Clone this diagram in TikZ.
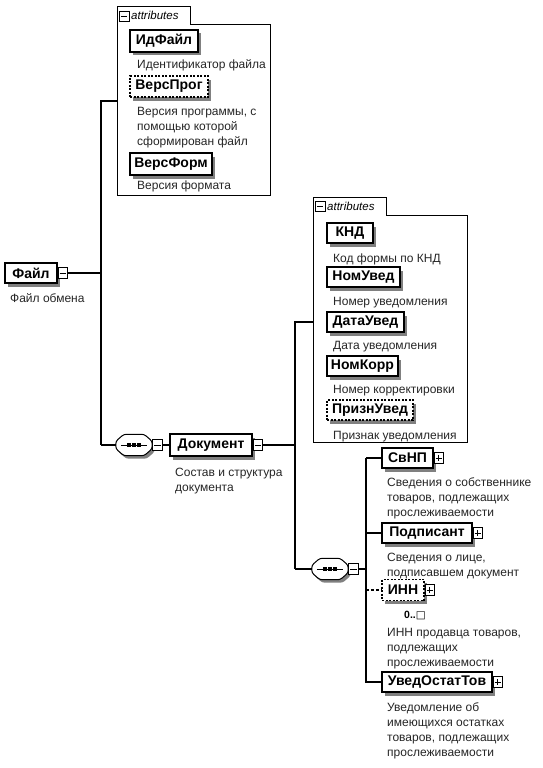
\documentclass[tikz,border=0pt]{standalone}
\usepackage{fontspec}
\setmainfont{Liberation Sans}
\newfontfamily\symfont{DejaVu Sans}
\usetikzlibrary{shadows}
\newcommand{\pmMinus}[1]{\draw[line width=0.9pt] ([xshift=2pt]#1.west) -- ([xshift=-2pt]#1.east);}
\newcommand{\pmPlus}[1]{\pmMinus{#1}\draw[line width=0.9pt] ([yshift=3.2pt]#1.center) -- ([yshift=-3.2pt]#1.center);}
\newcommand{\compos}[3]{%
  \node[minimum width=36pt, minimum height=21pt, inner sep=0pt] (#1) at (#2,#3) {};
  \draw[line width=1pt, fill=white, rounded corners=2.5pt, drop shadow={shadow xshift=2.5pt,shadow yshift=-3pt,fill=black!50,opacity=1}]
    ([xshift=8pt]#1.north west) -- ([xshift=-8pt]#1.north east) -- ([yshift=-7pt]#1.north east) -- ([yshift=7pt]#1.south east)
    -- ([xshift=-8pt]#1.south east) -- ([xshift=8pt]#1.south west) -- ([yshift=7pt]#1.south west) -- ([yshift=-7pt]#1.north west) -- cycle;
  \draw[line width=0.9pt] ([xshift=5pt]#1.west) -- ([xshift=-5pt]#1.east);
  \foreach \d in {-5,0,5} \fill ([xshift=\d pt]#1.center) +(-1.6,-1.6) rectangle +(1.6,1.6);
}
\begin{document}
\begin{tikzpicture}[x=1pt,y=-1pt,
  elem/.style={draw=black, line width=1.1pt, fill=white, font=\fontsize{14}{16}\selectfont\bfseries,
    inner sep=0pt, minimum height=20pt,
    drop shadow={shadow xshift=3pt,shadow yshift=-3.5pt,fill=black!50,opacity=1}},
  opt/.style={elem, dash pattern=on 2pt off 1.5pt},
  desc/.style={anchor=base west, inner sep=0pt, font=\fontsize{12}{15}\selectfont, text=black!85, align=left},
  conn/.style={line width=1.3pt, black},
  attrbox/.style={draw=black, line width=1pt},
  tabtxt/.style={anchor=base west, inner sep=0pt, font=\fontsize{11.5}{13}\selectfont\itshape},
  pmbox/.style={draw, line width=0.9pt, fill=white, minimum width=9.5pt, minimum height=11.5pt, inner sep=0pt, anchor=west},
  card/.style={anchor=base west, inner sep=0pt, font=\fontsize{10.5}{12}\selectfont\bfseries},
]
\useasboundingbox (0,0) rectangle (542,768);
\fill[white] (0,0) rectangle (542,768);

% ---------- top attributes box ----------
\draw[attrbox] (117,195) -- (117,7) -- (190,7) -- (190,25) -- (270,25) -- (270,195) -- cycle;
\node[pmbox, minimum width=9.5pt, minimum height=10pt] (tab1m) at (119,16) {};
\pmMinus{tab1m}
\node[tabtxt] (tab1t) at (131,20) {attributes};
\coordinate (attr1W) at (117,101);

\node[elem, minimum width=68pt, minimum height=22pt] (idf) at (164,41) {ИдФайл};
\node[desc] (idfd) at (137,69) {Идентификатор файла};
\node[opt, minimum width=78pt, minimum height=21pt] (vprog) at (169,86.5) {ВерсПрог};
\node[desc] (vprogd) at (137,145) {Версия программы, с\\помощью которой\\сформирован файл};
\node[elem, minimum width=82pt, minimum height=22pt] (vform) at (171,164) {ВерсФорм};
\node[desc] (vformd) at (137,189) {Версия формата};

% ---------- root ----------
\node[elem, minimum width=52pt] (file) at (31,273) {Файл};
\node[pmbox] (filem) at (file.east) {};
\pmMinus{filem}
\node[desc] (filed) at (10,302) {Файл обмена};

\coordinate (bus1top) at (101,101);
\coordinate (bus1bot) at (101,445);
\draw[conn] (attr1W) -- (bus1top) -- (bus1bot);
\draw[conn] (filem.east) -- (filem.east -| bus1top);

% ---------- compositor 1 & Документ ----------
\compos{c1}{134}{445}
\node[pmbox] (c1m) at (c1.east) {};
\pmMinus{c1m}
\draw[conn] (bus1bot) -- (c1.west);

\node[elem, minimum width=82pt, minimum height=22pt] (doc) at (211,445) {Документ};
\node[pmbox] (docm) at (doc.east) {};
\pmMinus{docm}
\draw[conn] (c1m.east) -- (doc.west);
\node[desc] (docd) at (175,491) {Состав и структура\\документа};

\coordinate (bus2top) at (295,322);
\coordinate (bus2bot) at (295,569);
\coordinate (attr2W) at (313,322);
\draw[conn] (docm.east) -- (docm.east -| bus2top);
\draw[conn] (attr2W) -- (bus2top) -- (bus2bot);

% ---------- second attributes box ----------
\draw[attrbox] (313,442) -- (313,197) -- (386,197) -- (386,215) -- (467,215) -- (467,442) -- cycle;
\node[pmbox, minimum width=9.5pt, minimum height=10pt] (tab2m) at (315,206) {};
\pmMinus{tab2m}
\node[tabtxt] (tab2t) at (327,210) {attributes};

\node[elem, minimum width=46pt] (knd) at (350,233) {КНД};
\node[desc] (kndd) at (333,262) {Код формы по КНД};
\node[elem, minimum width=73pt] (nomuv) at (363.5,277) {НомУвед};
\node[desc] (nomuvd) at (333,305) {Номер уведомления};
\node[elem, minimum width=77pt] (datuv) at (365.5,322) {ДатаУвед};
\node[desc] (datuvd) at (333,349) {Дата уведомления};
\node[elem, minimum width=71pt] (nomk) at (362.5,366) {НомКорр};
\node[desc] (nomkd) at (333,393) {Номер корректировки};
\node[opt, minimum width=86pt] (prizn) at (370,410) {ПризнУвед};
\node[desc] (priznd) at (333,439) {Признак уведомления};

% ---------- compositor 2 & children ----------
\compos{c2}{330}{569}
\node[pmbox] (c2m) at (c2.east) {};
\pmMinus{c2m}
\draw[conn] (bus2bot) -- (c2.west);

\coordinate (bus3top) at (366,458);
\coordinate (bus3bot) at (366,682);
\draw[conn] (c2m.east) -- (c2m.east -| bus3top);

\node[elem, minimum width=51pt] (svnp) at (407.5,458) {СвНП};
\node[pmbox] (svnpm) at (svnp.east) {};
\pmPlus{svnpm}
\node[desc] (svnpd) at (387,516) {Сведения о собственнике\\товаров, подлежащих\\прослеживаемости};

\node[elem, minimum width=90pt] (podp) at (427,533) {Подписант};
\node[pmbox] (podpm) at (podp.east) {};
\pmPlus{podpm}
\node[desc] (podpd) at (387,576) {Сведения о лице,\\подписавшем документ};

\node[opt, minimum width=42pt, minimum height=21pt] (inn) at (403,590) {ИНН};
\node[pmbox] (innm) at (inn.east) {};
\pmPlus{innm}
\node[card] (innc) at (404,618) {0..{\symfont □}};
\node[desc] (innd) at (387,666) {ИНН продавца товаров,\\подлежащих\\прослеживаемости};

\node[elem, minimum width=110pt] (uvost) at (437,682) {УведОстатТов};
\node[pmbox] (uvostm) at (uvost.east) {};
\pmPlus{uvostm}
\node[desc] (uvostd) at (387,756) {Уведомление об\\имеющихся остатках\\товаров, подлежащих\\прослеживаемости};

\draw[conn] (bus3top) -- (bus3bot) -- (uvost.west);
\draw[conn] (bus3top) -- (svnp.west);
\draw[conn] (podp.west -| bus3top) -- (podp.west);
\draw[conn, dash pattern=on 3pt off 2pt] (inn.west -| bus3top) -- (inn.west);
\end{tikzpicture}
\end{document}
